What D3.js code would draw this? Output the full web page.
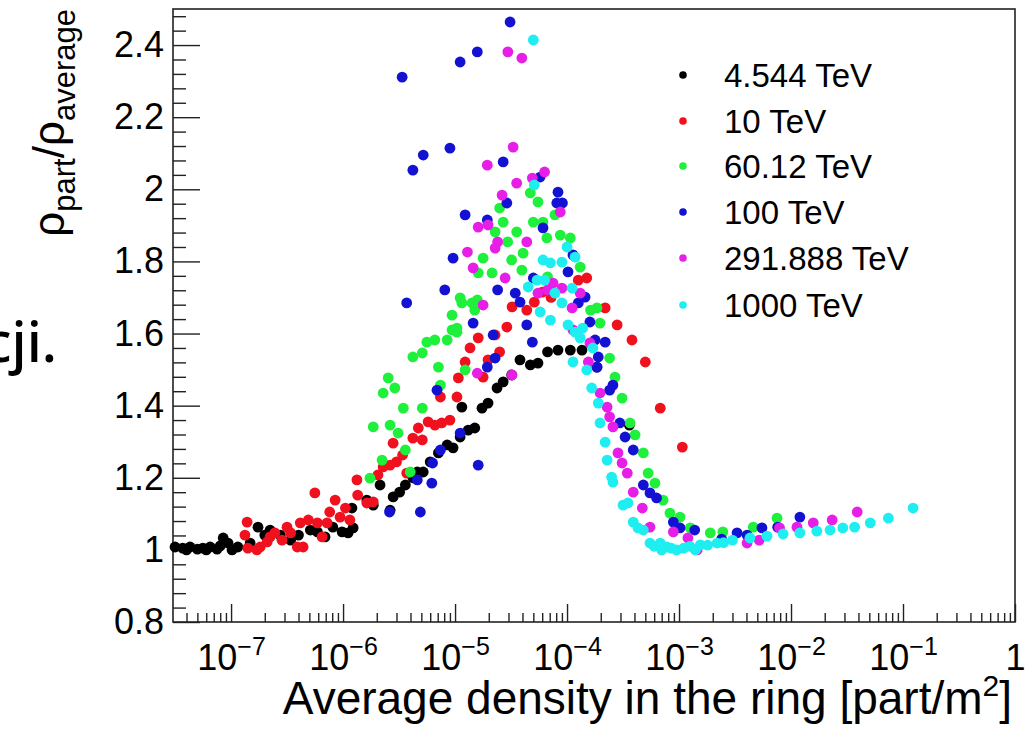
<!DOCTYPE html>
<html><head><meta charset="utf-8">
<script src="https://cdn.jsdelivr.net/npm/d3@7"></script>
<style>
body{margin:0;background:#fff}
svg{display:block}
text{font-family:"Liberation Sans",Arial,Helvetica,sans-serif;fill:#000}
</style>
</head><body>
<svg id="chart" width="1036" height="736"></svg>
<script>
// ---------------- data ----------------
const seriesNames = ["4.544 TeV","10 TeV","60.12 TeV","100 TeV","291.888 TeV","1000 TeV"];
const seriesColors = ["#000000","#f0101e","#1ef03c","#1412d2","#e61ee6","#1eeef0"];

const pts4544 = [[3.16e-8,1.008],[3.7e-8,1.005],[4.0e-8,1.0],[4.3e-8,1.008],[5.0e-8,1.002],[5.6e-8,1.005],[6.0e-8,1.0],[6.5e-8,1.008],[7.5e-8,1.002],[8.0e-8,1.011],[8.5e-8,1.033],[9.4e-8,1.019],[1.02e-7,1.0],[1.15e-7,1.008],[1.48e-7,1.019],[1.74e-7,1.063],[2.0e-7,1.041],[2.23e-7,1.055],[2.75e-7,1.041],[3.4e-7,1.027],[4.0e-7,1.041],[5.1e-7,1.055],[5.9e-7,1.05],[6.9e-7,1.036],[8.1e-7,1.063],[9.8e-7,1.05],[1.11e-6,1.047],[1.23e-6,1.061],[1.2e-6,1.116],[1.63e-6,1.138],[1.86e-6,1.124],[2.14e-6,1.18],[2.63e-6,1.11],[2.8e-6,1.147],[3.2e-6,1.16],[3.6e-6,1.18],[4.2e-6,1.2],[4.6e-6,1.216],[5.2e-6,1.216],[6.0e-6,1.244],[7.1e-6,1.269],[8.5e-6,1.291],[9.6e-6,1.283],[1.11e-5,1.313],[1.15e-5,1.396],[1.31e-5,1.332],[1.5e-5,1.338],[1.74e-5,1.393],[1.97e-5,1.407],[2.37e-5,1.449],[2.69e-5,1.466],[3.2e-5,1.485],[3.8e-5,1.527],[4.7e-5,1.513],[5.5e-5,1.518],[6.7e-5,1.549],[8.3e-5,1.554],[1.07e-4,1.554],[1.36e-4,1.554],[1.85e-4,1.507],[3.6e-4,1.346]];

const pts10 = [[1.39e-7,1.077],[1.33e-7,1.041],[1.41e-7,1.005],[1.7e-7,1.0],[1.82e-7,1.008],[2.1e-7,1.022],[2.23e-7,1.036],[2.46e-7,1.047],[2.85e-7,1.027],[3.16e-7,1.063],[3.4e-7,1.047],[3.9e-7,1.008],[4.4e-7,1.008],[4.15e-7,1.075],[4.9e-7,1.083],[5.6e-7,1.158],[5.9e-7,1.075],[6.5e-7,1.036],[7.2e-7,1.075],[7.6e-7,1.105],[8.5e-7,1.138],[9.4e-7,1.091],[1.05e-6,1.116],[1.15e-6,1.083],[1.33e-6,1.194],[1.35e-6,1.152],[1.63e-6,1.13],[1.86e-6,1.133],[2.05e-6,1.208],[2.28e-6,1.23],[2.63e-6,1.235],[3.0e-6,1.244],[2.8e-6,1.296],[3.4e-6,1.263],[3.7e-6,1.213],[4.2e-6,1.31],[4.7e-6,1.338],[5.1e-6,1.305],[5.75e-6,1.355],[6.6e-6,1.346],[7.6e-6,1.352],[9.0e-6,1.36],[7.4e-6,1.424],[1.04e-5,1.424],[1.07e-5,1.477],[1.23e-5,1.521],[1.36e-5,1.56],[1.61e-5,1.588],[1.78e-5,1.479],[1.97e-5,1.527],[2.28e-5,1.596],[2.5e-5,1.549],[2.9e-5,1.618],[3.23e-5,1.674],[4.37e-5,1.665],[5.1e-5,1.687],[6.0e-5,1.715],[7.2e-5,1.70],[1.26e-4,1.748],[1.5e-4,1.754],[2.19e-4,1.671],[2.8e-4,1.624],[3.8e-4,1.582],[5.0e-4,1.521],[6.8e-4,1.393],[1.07e-3,1.285]];

const pts60 = [[1.74e-6,1.199],[2.23e-6,1.249],[1.86e-6,1.341],[2.63e-6,1.346],[3.1e-6,1.324],[3.45e-6,1.393],[3.6e-6,1.277],[3.98e-6,1.216],[2.28e-6,1.435],[2.53e-6,1.477],[2.9e-6,1.449],[5.1e-6,1.393],[4.2e-6,1.535],[5.1e-6,1.546],[5.6e-6,1.576],[6.6e-6,1.582],[8.5e-6,1.582],[9.4e-6,1.61],[1.04e-5,1.604],[7.1e-6,1.507],[7.4e-6,1.457],[9.4e-6,1.651],[1.15e-5,1.685],[1.42e-5,1.685],[1.23e-5,1.499],[1.11e-5,1.699],[1.58e-5,1.693],[1.5e-5,1.665],[1.04e-5,1.615],[1.61e-5,1.768],[2.14e-5,1.768],[1.78e-5,1.809],[2.28e-5,1.882],[2.5e-5,1.948],[2.69e-5,1.909],[2.95e-5,1.854],[3.2e-5,1.804],[3.55e-5,1.882],[3.95e-5,1.776],[4.05e-5,1.823],[4.7e-5,1.99],[5.0e-5,1.909],[5.5e-5,1.965],[6.1e-5,1.909],[6.6e-5,1.865],[6.7e-5,1.757],[7.8e-5,1.929],[8.7e-5,1.873],[1.07e-4,1.865],[1.31e-4,1.784],[1.62e-4,1.665],[1.85e-4,1.671],[1.97e-4,1.629],[2.4e-4,1.532],[2.68e-4,1.479],[3.1e-4,1.421],[3.65e-4,1.352],[4.05e-4,1.319],[4.8e-4,1.269],[5.3e-4,1.213],[6.1e-4,1.185],[7.2e-4,1.138],[8.3e-4,1.102],[1.02e-3,1.091],[1.26e-3,1.061],[1.9e-3,1.047],[2.46e-3,1.05],[4.6e-3,1.063],[7.5e-3,1.088]];

const pts100 = [[3.37e-6,2.311],[3.7e-6,1.685],[4.2e-6,2.053],[5.2e-6,2.095],[9.0e-6,2.114],[1.11e-5,2.353],[1.58e-5,2.381],[3.1e-5,2.464],[2.69e-5,2.076],[5.75e-5,2.034],[8.3e-5,1.992],[8.1e-5,1.962],[9.1e-5,1.962],[2.9e-5,1.962],[1.23e-5,1.929],[1.94e-5,1.915],[6.1e-5,1.893],[9.6e-6,1.809],[1.13e-4,1.818],[1.02e-4,1.771],[5.0e-5,1.754],[3.45e-5,1.712],[3.8e-5,1.687],[2.4e-5,1.721],[8.1e-6,1.721],[1.45e-5,1.629],[4.37e-5,1.624],[1.45e-4,1.701],[1.26e-4,1.685],[1.6e-4,1.632],[2.19e-5,1.596],[4.9e-5,1.576],[2.28e-5,1.532],[1.94e-5,1.507],[6.9e-6,1.443],[1.11e-5,1.324],[7.4e-6,1.277],[6.3e-6,1.241],[4.6e-6,1.194],[6.2e-6,1.185],[1.61e-5,1.235],[4.9e-6,1.105],[2.6e-6,1.105],[1.78e-4,1.582],[2.19e-4,1.576],[1.9e-4,1.535],[1.85e-4,1.507],[2.57e-4,1.457],[2.4e-4,1.443],[2.96e-4,1.352],[3.3e-4,1.313],[3.9e-4,1.277],[4.8e-4,1.18],[5.5e-4,1.158],[6.3e-4,1.144],[8.9e-4,1.077],[1.02e-3,1.061],[1.38e-3,1.055],[2.4e-3,1.03],[3.3e-3,1.047],[4.05e-3,1.041],[5.5e-3,1.061],[7.6e-3,1.063],[1.2e-2,1.091]];

const pts292 = [[2.96e-5,2.381],[3.95e-5,2.364],[3.3e-5,2.117],[1.94e-5,2.067],[6.3e-5,2.048],[4.9e-5,2.031],[3.55e-5,2.017],[2.63e-5,1.984],[8.7e-5,1.937],[1.61e-5,1.895],[1.97e-5,1.901],[2.4e-5,1.854],[2.28e-5,1.837],[4.37e-5,1.854],[1.29e-5,1.826],[1.45e-5,1.782],[2.8e-5,1.754],[1.78e-5,1.679],[5.5e-5,1.712],[6.7e-5,1.721],[7.5e-5,1.74],[9.0e-5,1.726],[1.11e-4,1.671],[1.31e-4,1.712],[1.58e-5,1.49],[3.23e-5,1.485],[1.13e-4,1.61],[1.6e-4,1.574],[1.55e-4,1.521],[1.97e-4,1.435],[2.28e-4,1.396],[2.4e-4,1.369],[2.57e-4,1.341],[2.85e-4,1.269],[3.1e-4,1.241],[3.45e-4,1.213],[3.9e-4,1.16],[4.7e-4,1.116],[5.5e-4,1.063],[8.9e-4,1.05],[1.2e-3,1.033],[1.45e-3,1.0],[4.05e-3,1.019],[5.2e-3,1.027],[7.9e-3,1.061],[1.13e-2,1.063],[1.58e-2,1.075],[2.33e-2,1.083],[3.9e-2,1.105]];

const pts1000 = [[5.0e-5,2.414],[5.1e-5,2.012],[1.0e-4,1.84],[6.1e-5,1.804],[7.1e-5,1.796],[9.0e-5,1.798],[1.18e-4,1.812],[5.4e-5,1.748],[6.3e-5,1.748],[4.5e-5,1.729],[7.8e-5,1.712],[1.11e-4,1.726],[5.75e-5,1.66],[7.1e-5,1.637],[9.0e-5,1.685],[1.02e-4,1.624],[1.18e-4,1.604],[1.38e-4,1.615],[1.31e-4,1.588],[1.7e-4,1.56],[1.13e-4,1.521],[1.5e-4,1.499],[1.66e-4,1.449],[1.9e-4,1.407],[1.97e-4,1.352],[2.19e-4,1.299],[2.28e-4,1.249],[2.5e-4,1.202],[2.57e-4,1.188],[3.16e-4,1.124],[3.5e-4,1.13],[3.9e-4,1.077],[4.3e-4,1.061],[4.8e-4,1.055],[5.5e-4,1.019],[6.0e-4,1.01],[6.8e-4,1.019],[7.0e-4,1.0],[7.8e-4,1.008],[8.5e-4,1.005],[9.5e-4,1.0],[1.1e-3,1.005],[1.25e-3,1.01],[1.4e-3,1.0],[1.55e-3,1.014],[1.8e-3,1.013],[2.19e-3,1.019],[2.5e-3,1.02],[3.0e-3,1.027],[4.3e-3,1.033],[6.1e-3,1.038],[8.5e-3,1.044],[1.2e-2,1.047],[1.7e-2,1.052],[2.23e-2,1.055],[2.9e-2,1.061],[3.7e-2,1.063],[5.1e-2,1.075],[7.4e-2,1.088],[1.23e-1,1.116]];

const seriesPoints = [pts4544, pts10, pts60, pts100, pts292, pts1000];

const yTickValues = [0.8,1.0,1.2,1.4,1.6,1.8,2.0,2.2,2.4];
const yTickLabels = ["0.8","1","1.2","1.4","1.6","1.8","2","2.2","2.4"];
const xTickValues = [1e-7,1e-6,1e-5,1e-4,1e-3,1e-2,1e-1,1];
const xTickBases = ["10","10","10","10","10","10","10","1"];
const xTickExps = ["−7","−6","−5","−4","−3","−2","−1",""];
const xDomain = [3.03e-8, 1];
const yDomain = [0.8, 2.5];

// ---------------- layout ----------------
const L = 173, R = 1015, T = 9, B = 622;
const svg = d3.select("#chart");

const x = d3.scaleLog().domain(xDomain).range([L, R]);
const y = d3.scaleLinear().domain(yDomain).range([B, T]);

// minor ticks
const yMinor = d3.range(0.84, 2.5, 0.04).filter(v => Math.abs(v*5 - Math.round(v*5)) > 1e-6);
const xMinor = [];
for (let k = -8; k <= -1; k++) for (let m = 2; m <= 9; m++) {
  const v = m * Math.pow(10, k);
  if (v >= xDomain[0] && v <= xDomain[1]) xMinor.push(v);
}

// y axis
const gy = svg.append("g").attr("transform", `translate(${L},0)`);
gy.call(d3.axisLeft(y).tickValues(yMinor).tickSize(-13).tickFormat(""))
gy.call(g => g.select(".domain").remove());
const gy2 = svg.append("g").attr("transform", `translate(${L},0)`);
gy2.call(d3.axisLeft(y).tickValues(yTickValues).tickSize(-27).tickPadding(9)
  .tickFormat((d,i) => yTickLabels[i]));
gy2.call(g => g.select(".domain").remove());
gy2.selectAll("text").attr("font-size", 36).attr("fill","#111");

// x axis
const gx = svg.append("g").attr("transform", `translate(0,${B})`);
gx.call(d3.axisBottom(x).tickValues(xMinor).tickSize(-9).tickFormat(""));
gx.call(g => g.select(".domain").remove());
const gx2 = svg.append("g").attr("transform", `translate(0,${B})`);
gx2.call(d3.axisBottom(x).tickValues(xTickValues).tickSize(-18).tickFormat(""));
gx2.call(g => g.select(".domain").remove());
gx2.selectAll(".tick").each(function(d, i) {
  const t = d3.select(this).append("text")
    .attr("y", 48).attr("text-anchor", "middle").attr("font-size", 36).attr("fill", "#111");
  t.append("tspan").text(xTickBases[i]);
  if (xTickExps[i]) t.append("tspan").attr("font-size", 25).attr("dy", -15).text(xTickExps[i]);
});
svg.selectAll(".tick line").attr("stroke", "#222").attr("stroke-width", 1.4);

// frame
svg.append("rect").attr("x", L).attr("y", T).attr("width", R - L).attr("height", B - T)
  .attr("fill", "none").attr("stroke", "#222").attr("stroke-width", 1.6);

// points
seriesPoints.forEach((pts, si) => {
  svg.append("g").selectAll("circle").data(pts).join("circle")
    .attr("cx", d => x(d[0])).attr("cy", d => y(d[1])).attr("r", 5.4)
    .attr("fill", seriesColors[si]);
});

// legend
const legendRowY = [75, 121, 166, 212, 258, 305];
seriesNames.forEach((name, i) => {
  svg.append("circle").attr("cx", 683).attr("cy", legendRowY[i]).attr("r", 3.8).attr("fill", seriesColors[i]);
  svg.append("text").attr("x", 724).attr("y", legendRowY[i] + 12).attr("font-size", 33).attr("fill","#111").text(name);
});

// x title
const xt = svg.append("text").attr("x", 1012).attr("y", 714).attr("text-anchor", "end")
  .attr("font-size", 46).attr("fill","#111");
xt.append("tspan").text("Average density in the ring [part/m");
xt.append("tspan").attr("font-size", 30).attr("dy", -18).text("2");
xt.append("tspan").attr("dy", 18).text("]");

// y title
const yt = svg.append("text").attr("transform", "translate(64,9) rotate(-90)")
  .attr("text-anchor", "end").attr("font-size", 44).attr("fill","#111");
yt.append("tspan").text("ρ");
yt.append("tspan").attr("font-size", 31).attr("dy", 11).text("part");
yt.append("tspan").attr("dy", -11).text("/ρ");
yt.append("tspan").attr("font-size", 31).attr("dy", 11).text("average");

// slide text fragment (cut at the left edge, as in the reference)
svg.append("text").attr("x", 57).attr("y", 362).attr("text-anchor", "end")
  .style("font-family", "'Noto Sans', 'Open Sans', sans-serif").style("font-weight", 500)
  .attr("font-size", 56).style("fill","#000").text("cji.");
</script>
</body></html>
